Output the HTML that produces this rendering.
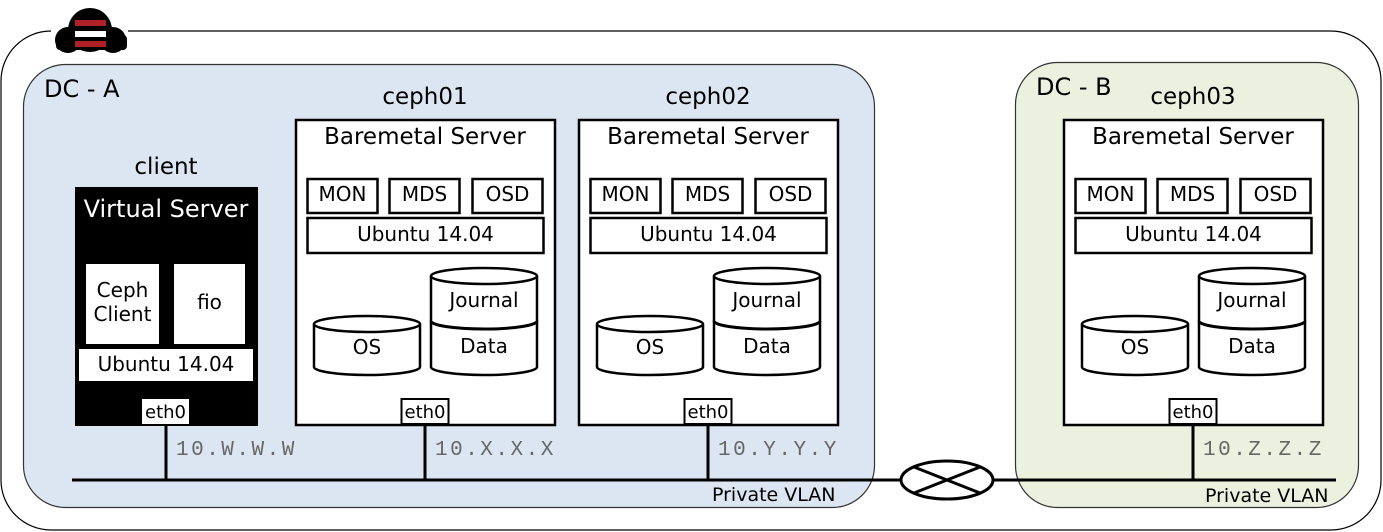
<!DOCTYPE html>
<html><head><meta charset="utf-8"><style>
html,body{margin:0;padding:0;background:#fff;}
svg{display:block;}
text{font-family:"DejaVu Sans","Liberation Sans",sans-serif;fill:#000;}
.ip{font-family:"Liberation Mono",monospace;font-size:21px;fill:#666;letter-spacing:2.5px;}
</style></head><body>
<svg width="1383" height="532" viewBox="0 0 1383 532" xmlns="http://www.w3.org/2000/svg">
<defs>
<g id="srv">
  <rect x="296" y="120" width="259" height="305" fill="#fff" stroke="#000" stroke-width="2.5"/>
  <text x="425" y="144" font-size="23" text-anchor="middle">Baremetal Server</text>
  <rect x="307.5" y="179" width="70" height="34" fill="#fff" stroke="#000" stroke-width="2.5"/>
  <text x="342.5" y="201" font-size="20" text-anchor="middle">MON</text>
  <rect x="389.5" y="179" width="70" height="34" fill="#fff" stroke="#000" stroke-width="2.5"/>
  <text x="424.5" y="201" font-size="20" text-anchor="middle">MDS</text>
  <rect x="472.5" y="179" width="70" height="34" fill="#fff" stroke="#000" stroke-width="2.5"/>
  <text x="507.5" y="201" font-size="20" text-anchor="middle">OSD</text>
  <rect x="307.5" y="218" width="236" height="35" fill="#fff" stroke="#000" stroke-width="2.5"/>
  <text x="425.5" y="241" font-size="20" text-anchor="middle">Ubuntu 14.04</text>
  <path d="M314 324 L314 367 A53 8 0 0 0 420 367 L420 324" fill="#fff" stroke="#000" stroke-width="2.5"/>
  <ellipse cx="367" cy="324" rx="53" ry="8" fill="#fff" stroke="#000" stroke-width="2.5"/>
  <text x="367" y="354" font-size="20" text-anchor="middle">OS</text>
  <path d="M431 276 L431 367 A53 8 0 0 0 537 367 L537 276" fill="#fff" stroke="#000" stroke-width="2.5"/>
  <path d="M431 321 A53 8 0 0 0 537 321" fill="none" stroke="#000" stroke-width="3"/>
  <ellipse cx="484" cy="276" rx="53" ry="8" fill="#fff" stroke="#000" stroke-width="2.5"/>
  <text x="484" y="307" font-size="20" text-anchor="middle">Journal</text>
  <text x="484" y="353" font-size="20" text-anchor="middle">Data</text>
  <rect x="401.5" y="399" width="47" height="25" fill="#fff" stroke="#000" stroke-width="2"/>
  <text x="425" y="418" font-size="18" text-anchor="middle">eth0</text>
</g>
</defs>

<path d="M128 31 L1331 31 A50 50 0 0 1 1381 81 L1381 480 A50 50 0 0 1 1331 530 L51 530 A50 50 0 0 1 1 480 L1 81 A50 50 0 0 1 51 31" fill="none" stroke="#000" stroke-width="1.2"/>

<g>
  <circle cx="90" cy="30" r="22" fill="#000"/>
  <circle cx="68" cy="40" r="13" fill="#000"/>
  <circle cx="113" cy="40" r="13" fill="#000"/>
  <rect x="56" y="35" width="71" height="15" rx="4" fill="#000"/>
  <rect x="75" y="20" width="31" height="6" fill="#b02027"/>
  <rect x="75" y="31" width="31" height="6" fill="#fff"/>
  <rect x="75" y="41" width="31" height="6" fill="#b02027"/>
</g>

<rect x="23.5" y="64.5" width="851" height="443" rx="42" fill="#dce6f2" stroke="#333" stroke-width="1.2"/>
<text x="44" y="97" font-size="24">DC - A</text>
<rect x="1015.5" y="62.5" width="343" height="445" rx="42" fill="#ebf1de" stroke="#333" stroke-width="1.2"/>
<text x="1036" y="95" font-size="24">DC - B</text>

<text x="166" y="174" font-size="23" text-anchor="middle">client</text>
<rect x="75" y="187" width="183" height="239" fill="#000"/>
<text x="166" y="217" font-size="24" text-anchor="middle" style="fill:#fff">Virtual Server</text>
<rect x="86" y="264" width="73" height="80" fill="#fff"/>
<text x="122.5" y="297" font-size="20" text-anchor="middle">Ceph</text>
<text x="122.5" y="321" font-size="20" text-anchor="middle">Client</text>
<rect x="174" y="264" width="71" height="80" fill="#fff"/>
<text x="209.5" y="309" font-size="20" text-anchor="middle">fio</text>
<rect x="79" y="349" width="174" height="32" fill="#fff"/>
<text x="166" y="371" font-size="20" text-anchor="middle">Ubuntu 14.04</text>
<rect x="142" y="399" width="47" height="25" fill="#fff"/>
<text x="165.5" y="418" font-size="18" text-anchor="middle">eth0</text>

<text x="425" y="104" font-size="23" text-anchor="middle">ceph01</text>
<use href="#srv"/>
<text x="708" y="104" font-size="23" text-anchor="middle">ceph02</text>
<use href="#srv" transform="translate(283,0)"/>
<text x="1193" y="104" font-size="23" text-anchor="middle">ceph03</text>
<use href="#srv" transform="translate(768,0)"/>

<g stroke="#000" stroke-width="3" fill="none">
  <line x1="72" y1="480" x2="901" y2="480"/>
  <line x1="992" y1="480" x2="1336" y2="480"/>
  <line x1="166" y1="425" x2="166" y2="480"/>
  <line x1="425" y1="425" x2="425" y2="480"/>
  <line x1="708" y1="425" x2="708" y2="480"/>
  <line x1="1193" y1="425" x2="1193" y2="480"/>
  <ellipse cx="947" cy="480" rx="46" ry="19" fill="#fff"/>
  <line x1="914" y1="467" x2="980" y2="493"/>
  <line x1="914" y1="493" x2="980" y2="467"/>
</g>
<text class="ip" x="176" y="455">10.W.W.W</text>
<text class="ip" x="435" y="455">10.X.X.X</text>
<text class="ip" x="718" y="455">10.Y.Y.Y</text>
<text class="ip" x="1203" y="455">10.Z.Z.Z</text>
<text x="712" y="501" font-size="19">Private VLAN</text>
<text x="1205" y="502" font-size="19">Private VLAN</text>
</svg>
</body></html>
